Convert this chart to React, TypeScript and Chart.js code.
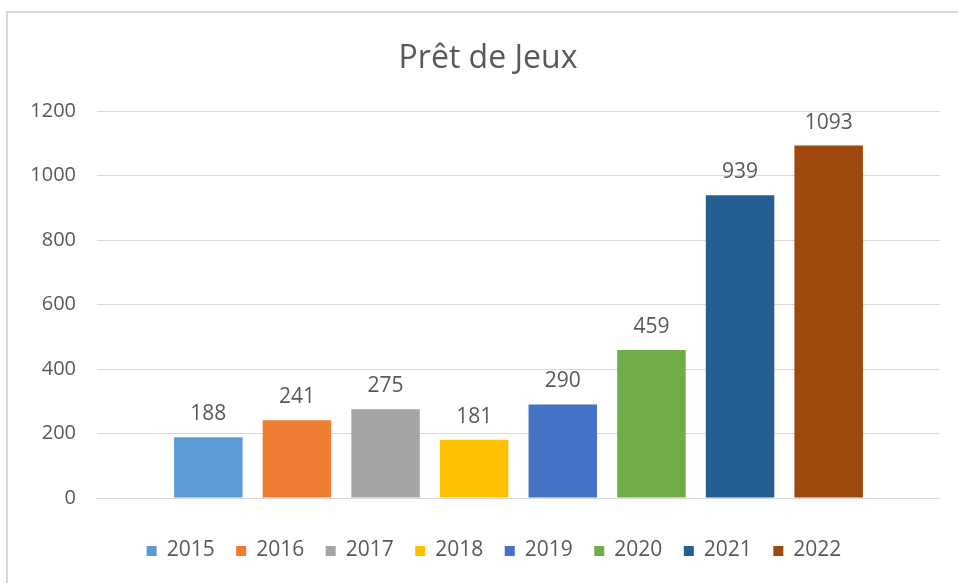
import { useEffect, useRef } from "react";
import { Chart, registerables } from "chart.js";

Chart.register(...registerables);

const chartTitle = "Prêt de Jeux";
const categories = [""];
const years = ["2015", "2016", "2017", "2018", "2019", "2020", "2021", "2022"];
const values = [188, 241, 275, 181, 290, 459, 939, 1093];
const colors = ["#5B9BD5", "#ED7D31", "#A5A5A5", "#FFC000", "#4472C4", "#70AD47", "#255E91", "#9E480E"];
const yMin = 0;
const yMax = 1200;
const yStep = 200;

const FONT = "'Open Sans', 'Noto Sans', sans-serif";
const TEXT = "#595959";

const excelPlugin = {
  id: "excelLook",
  beforeDraw(chart: any) {
    const ctx = chart.ctx;
    ctx.save();
    ctx.fillStyle = "#ffffff";
    ctx.fillRect(0, 0, chart.width, chart.height);
    ctx.strokeStyle = "#d9d9d9";
    ctx.lineWidth = 2;
    ctx.strokeRect(7, 12, chart.width + 40, chart.height + 40);
    ctx.restore();
  },
  afterDatasetsDraw(chart: any) {
    const ctx = chart.ctx;
    ctx.save();
    ctx.font = `21px ${FONT}`;
    ctx.fillStyle = TEXT;
    ctx.textAlign = "center";
    ctx.textBaseline = "alphabetic";
    chart.data.datasets.forEach((ds: any, i: number) => {
      const meta = chart.getDatasetMeta(i);
      meta.data.forEach((bar: any, j: number) => {
        ctx.fillText(String(ds.data[j]), bar.x, bar.y - 17);
      });
    });
    ctx.restore();
  },
  afterDraw(chart: any) {
    const ctx = chart.ctx;
    ctx.save();
    // title
    ctx.font = `32px ${FONT}`;
    ctx.fillStyle = TEXT;
    ctx.textAlign = "center";
    ctx.textBaseline = "alphabetic";
    ctx.fillText(chartTitle, 488, 68);
    // legend
    ctx.font = `21px ${FONT}`;
    ctx.textAlign = "left";
    ctx.textBaseline = "middle";
    const box = 10;
    const boxGap = 10;
    const itemGap = 21.5;
    const items = chart.data.datasets.map((ds: any) => ({
      label: ds.label,
      color: ds.backgroundColor,
      w: box + boxGap + ctx.measureText(ds.label).width,
    }));
    const total = items.reduce((s: number, it: any) => s + it.w, 0) + itemGap * (items.length - 1);
    let x = 494 - total / 2;
    const cy = 550;
    items.forEach((it: any) => {
      ctx.fillStyle = it.color;
      ctx.fillRect(x, cy - box / 2 + 1, box, box);
      ctx.fillStyle = TEXT;
      ctx.fillText(it.label, x + box + boxGap, cy);
      x += it.w + itemGap;
    });
    ctx.restore();
  },
};

export default function App() {
  const ref = useRef<HTMLCanvasElement | null>(null);
  useEffect(() => {
    if (!ref.current) return;
    const chart = new Chart(ref.current, {
      type: "bar",
      data: {
        labels: categories,
        datasets: years.map((y, i) => ({
          label: y,
          data: [values[i]],
          backgroundColor: colors[i],
          borderWidth: 0,
          categoryPercentage: 0.841,
          barPercentage: 0.773,
        })),
      },
      options: {
        responsive: false,
        animation: false,
        layout: { padding: { top: 111, right: 18, bottom: 85, left: 0 } },
        plugins: {
          legend: { display: false },
          title: { display: false },
          tooltip: { enabled: false },
        },
        scales: {
          x: { display: false },
          y: {
            min: yMin,
            max: yMax,
            afterFit(scale: any) {
              scale.width = 97;
            },
            ticks: {
              stepSize: yStep,
              padding: 21,
              color: TEXT,
              font: { family: FONT, size: 20 },
              callback: (v: any) => String(v),
            },
            grid: { color: "#d9d9d9", lineWidth: 1, drawTicks: false },
            border: { display: false },
          },
        },
      },
      plugins: [excelPlugin],
    });
    return () => chart.destroy();
  }, []);
  return (
    <div style={{ position: "absolute", left: 0, top: 0, width: 958, height: 583 }}>
      <canvas ref={ref} width={958} height={583} />
    </div>
  );
}
